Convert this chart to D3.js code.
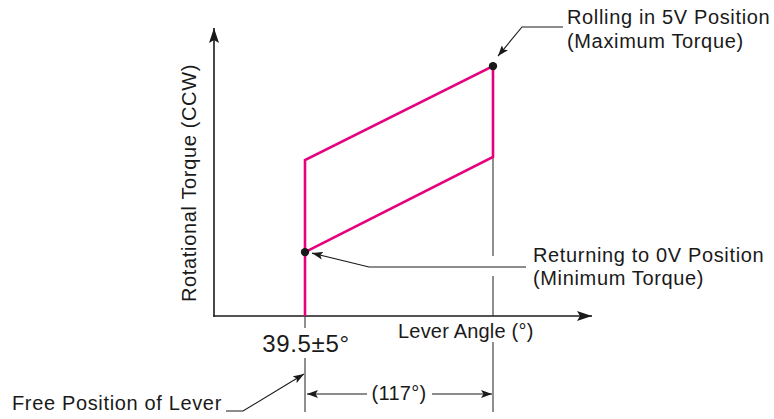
<!DOCTYPE html>
<html>
<head>
<meta charset="utf-8">
<script src="https://cdn.jsdelivr.net/npm/d3@7"></script>
<style>
  body { margin: 0; background: #fff; }
  text { font-family: "Liberation Sans", Arial, sans-serif; fill: #1a1a1a; letter-spacing: 0.65px; }
</style>
</head>
<body>
<svg id="chart" width="774" height="419"></svg>
<script>
// lever angle (deg) where the loop starts, and the stroke to full position
var freeAngle = 39.5;
var strokeAngle = 117;
var fullAngle = freeAngle + strokeAngle;

// torque, relative units (0-100)
var loopAngles = [freeAngle, freeAngle, fullAngle, fullAngle, freeAngle];
var loopTorque = [0, 52, 83.3, 53, 21.3];

var maxPoint = [fullAngle, 83.3];
var minPoint = [freeAngle, 21.3];

var labels = {
  yTitle: "Rotational Torque (CCW)",
  xTitle: "Lever Angle (°)",
  freeTick: "39.5±5°",
  stroke: "(117°)",
  freeNote: "Free Position of Lever",
  maxNote: ["Rolling in 5V Position", "(Maximum Torque)"],
  minNote: ["Returning to 0V Position", "(Minimum Torque)"]
};

var svg = d3.select("#chart");

var x = d3.scaleLinear().domain([freeAngle, fullAngle]).range([305, 493]);
var y = d3.scaleLinear().domain([0, 100]).range([316, 16]);

var x0 = x.range()[0] - 91, xEnd = 592;   // axis extents in px
var y0 = y(0), yEnd = 28;

// arrow markers
var defs = svg.append("defs");
defs.append("marker")
  .attr("id", "axisArrow")
  .attr("viewBox", "0 0 15 10")
  .attr("refX", 15).attr("refY", 5)
  .attr("markerWidth", 15).attr("markerHeight", 10)
  .attr("markerUnits", "userSpaceOnUse")
  .attr("orient", "auto")
  .append("path").attr("d", "M0,0 L15,5 L0,10 L3,5 Z").attr("fill", "#1a1a1a");
defs.append("marker")
  .attr("id", "smallArrow")
  .attr("viewBox", "0 0 11 8")
  .attr("refX", 11).attr("refY", 4)
  .attr("markerWidth", 11).attr("markerHeight", 8)
  .attr("markerUnits", "userSpaceOnUse")
  .attr("orient", "auto")
  .append("path").attr("d", "M0,0 L11,4 L0,8 L2.5,4 Z").attr("fill", "#1a1a1a");

// axes
svg.append("line")
  .attr("x1", x0).attr("y1", y0 + 0.8).attr("x2", x0).attr("y2", yEnd)
  .attr("stroke", "#1a1a1a").attr("stroke-width", 1.6).attr("marker-end", "url(#axisArrow)");
svg.append("line")
  .attr("x1", x0 - 0.8).attr("y1", y0).attr("x2", xEnd).attr("y2", y0)
  .attr("stroke", "#1a1a1a").attr("stroke-width", 1.6).attr("marker-end", "url(#axisArrow)");

// extension lines (gray, broken where text crosses them)
var ext = [
  [x(fullAngle), y(53), 256],
  [x(fullAngle), 276, y0],
  [x(fullAngle), 342, 412],
  [x(freeAngle), y0, 328],
  [x(freeAngle), 358, 412]
];
ext.forEach(function (e) {
  svg.append("line")
    .attr("x1", e[0]).attr("x2", e[0]).attr("y1", e[1]).attr("y2", e[2])
    .attr("stroke", "#333").attr("stroke-width", 1.1);
});

// torque hysteresis loop
var loop = d3.line()
  .x(function (d) { return x(d[0]); })
  .y(function (d) { return y(d[1]); });
svg.append("path")
  .datum(d3.zip(loopAngles, loopTorque))
  .attr("d", loop)
  .attr("fill", "none")
  .attr("stroke", "#e6007e")
  .attr("stroke-width", 2.6)
  .attr("stroke-linejoin", "miter");

svg.selectAll("circle.pt")
  .data([maxPoint, minPoint])
  .enter().append("circle")
  .attr("class", "pt")
  .attr("cx", function (d) { return x(d[0]); })
  .attr("cy", function (d) { return y(d[1]); })
  .attr("r", 4.2)
  .attr("fill", "#1a1a1a");

// leader lines
function leader(pts) {
  svg.append("path")
    .attr("d", "M" + pts.map(function (p) { return p.join(","); }).join(" L"))
    .attr("fill", "none").attr("stroke", "#1a1a1a").attr("stroke-width", 1.1)
    .attr("marker-end", "url(#smallArrow)");
}
leader([[563, 27], [522, 27], [x(maxPoint[0]) + 5, y(maxPoint[1]) - 10]]);
leader([[526, 267], [369, 267], [x(minPoint[0]) + 7, y(minPoint[1]) + 1]]);
leader([[226, 411], [243, 411], [x(freeAngle) - 1, 374]]);

// stroke dimension
leader([[367, 394], [x(freeAngle) + 2, 394]]);
leader([[432, 394], [x(fullAngle) - 1, 394]]);

// texts
svg.append("text")
  .attr("transform", "translate(196,183) rotate(-90)")
  .attr("text-anchor", "middle")
  .style("font-size", "20px")
  .text(labels.yTitle);

svg.append("text")
  .attr("x", 398).attr("y", 338)
  .style("font-size", "20px").style("letter-spacing", "0.2px")
  .text(labels.xTitle);

svg.append("text")
  .attr("x", x(freeAngle) + 1).attr("y", 352)
  .attr("text-anchor", "middle")
  .style("font-size", "24px")
  .text(labels.freeTick);

svg.append("text")
  .attr("x", 399).attr("y", 400)
  .attr("text-anchor", "middle")
  .style("font-size", "20px").style("letter-spacing", "0.3px")
  .text(labels.stroke);

svg.append("text")
  .attr("x", 12).attr("y", 410)
  .style("font-size", "20px")
  .text(labels.freeNote);

svg.selectAll("text.maxNote")
  .data(labels.maxNote)
  .enter().append("text")
  .attr("class", "maxNote")
  .attr("x", 567)
  .attr("y", function (d, i) { return 24 + i * 24; })
  .style("font-size", "20px")
  .text(function (d) { return d; });

svg.selectAll("text.minNote")
  .data(labels.minNote)
  .enter().append("text")
  .attr("class", "minNote")
  .attr("x", 533)
  .attr("y", function (d, i) { return 262 + i * 23; })
  .style("font-size", "20px")
  .text(function (d) { return d; });
</script>
</body>
</html>
